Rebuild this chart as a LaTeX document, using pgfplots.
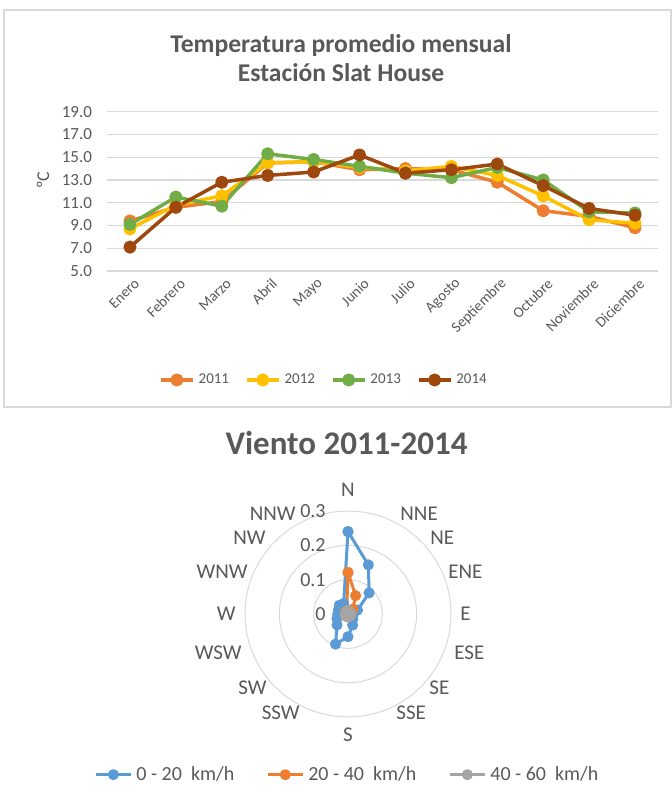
\documentclass[border=0pt]{standalone}
\usepackage{pgfplots}
\pgfplotsset{compat=1.18}
\usepackage{pgfplotstable}
\usepgfplotslibrary{polar}
\usepackage{fontspec}
\setmainfont{Carlito}

\definecolor{txt}{HTML}{595959}
\definecolor{grd}{HTML}{D9D9D9}
\definecolor{c11}{HTML}{ED7D31}
\definecolor{c12}{HTML}{FFC000}
\definecolor{c13}{HTML}{70AD47}
\definecolor{c14}{HTML}{9E480E}
\definecolor{vblue}{HTML}{5B9BD5}
\definecolor{vorange}{HTML}{ED7D31}
\definecolor{vgray}{HTML}{A5A5A5}

% monthly mean temperature, months 0 = Enero ... 11 = Diciembre
\pgfplotstableread{
m  t11  t12  t13  t14
0  9.4  8.7  9.1  7.1
1  10.6 10.8 11.5 10.6
2  11.1 11.6 10.7 12.8
3  14.5 14.5 15.3 13.4
4  14.6 14.6 14.8 13.7
5  13.9 14.1 14.2 15.2
6  14.0 13.8 13.6 13.6
7  13.9 14.2 13.2 13.9
8  12.8 13.4 14.1 14.4
9  10.3 11.6 13.0 12.5
10 9.8  9.5  10.2 10.5
11 8.8  9.2  10.1 9.9
}\temps

% wind frequency by direction (angle in degrees, N at 90, clockwise), last row closes the loop
\pgfplotstableread{
ang    v1    v2    v3
90     0.240 0.121 0.010
67.5   0.155 0.058 0.008
45     0.087 0.020 0.008
22.5   0.030 0.010 0.008
0      0.015 0.008 0.008
-22.5  0.015 0.008 0.008
-45    0.020 0.008 0.008
-67.5  0.035 0.008 0.008
-90    0.066 0.008 0.008
-112.5 0.095 0.008 0.008
-135   0.045 0.008 0.008
-157.5 0.035 0.008 0.008
-180   0.030 0.008 0.008
-202.5 0.030 0.008 0.008
-225   0.036 0.010 0.008
-247.5 0.033 0.010 0.008
-270   0.240 0.121 0.010
}\wind

\begin{document}
\begin{tikzpicture}
\useasboundingbox (0pt,0pt) rectangle (336pt,-401.5pt);
\draw[grd, line width=0.6pt] (2pt,-5pt) rectangle (335.5pt,-203.5pt);

\node[font=\fontsize{12.8}{14.5}\selectfont\bfseries, text=txt, align=center]
  at (170.5pt,-29.25pt) {Temperatura promedio mensual\\Estación Slat House};

\begin{axis}[
  at={(53.5pt,-135.5pt)}, anchor=south west,
  scale only axis, width=275.5pt, height=79.65pt,
  xmin=-0.5, xmax=11.5, ymin=5, ymax=19,
  xtick={0,...,11},
  xticklabels={Enero,Febrero,Marzo,Abril,Mayo,Junio,Julio,Agosto,Septiembre,Octubre,Noviembre,Diciembre},
  ytick={5,7,...,19},
  axis line style={draw=none},
  major tick length=0pt,
  ymajorgrids, grid style={grd, line width=0.6pt},
  /pgf/number format/assume math mode=true,
  yticklabel style={/pgf/number format/.cd, fixed, fixed zerofill, precision=1, /tikz/.cd,
    font=\fontsize{8.5}{10}\selectfont, text=txt, xshift=-4pt},
  xticklabel style={rotate=45, anchor=east, font=\fontsize{7.5}{9}\selectfont, text=txt, yshift=-6pt, inner sep=1pt},
  clip=false,
  legend style={at={(0.3956,-0.684)}, anchor=center, legend columns=4, draw=none, fill=none,
    font=\fontsize{7.5}{9}\selectfont, text=txt,
    /tikz/every even column/.append style={column sep=6pt}},
  legend image code/.code={\draw[#1, mark repeat=2, mark phase=2] plot coordinates {(0pt,0pt) (8pt,0pt) (16pt,0pt)};},
  every axis plot/.append style={line width=1.75pt, line join=round, mark=*, mark size=2.4pt, mark options={solid}},
]
\addplot[c11] table[x=m, y=t11] {\temps};
\addlegendentry{2011}
\addplot[c12] table[x=m, y=t12] {\temps};
\addlegendentry{2012}
\addplot[c13] table[x=m, y=t13] {\temps};
\addlegendentry{2013}
\addplot[c14] table[x=m, y=t14] {\temps};
\addlegendentry{2014}
\end{axis}
\node[rotate=90, font=\fontsize{9}{10}\selectfont, text=txt] at (21.5pt,-90pt) {ºC};

\node[font=\fontsize{16.5}{18}\selectfont\bfseries, text=txt] at (173.25pt,-221.5pt) {Viento 2011-2014};

\begin{polaraxis}[
  at={(174pt,-307pt)}, anchor=center,
  scale only axis, width=103pt, height=103pt,
  ymin=0, ymax=0.3, ytick={0.1,0.2,0.3}, yticklabels={},
  xtick=\empty,
  major tick length=0pt, tick style={draw=none},
  axis line style={draw=none},
  ymajorgrids, grid style={grd, line width=0.5pt},
  clip=false,
  legend style={at={(0.502,-0.28)}, anchor=center, legend columns=3, draw=none, fill=none,
    font=\fontsize{10}{12}\selectfont, text=txt,
    /tikz/every even column/.append style={column sep=14pt}},
  legend image code/.code={\draw[#1, mark repeat=2, mark phase=2] plot coordinates {(0pt,0pt) (8.75pt,0pt) (17.5pt,0pt)};},
  every axis plot/.append style={line width=1.5pt, line join=round, mark=*, mark size=2pt, mark options={solid}},
]
\addplot[vblue] table[x=ang, y=v1] {\wind};
\addlegendentry{0 - 20~ km/h}
\addplot[vorange] table[x=ang, y=v2] {\wind};
\addlegendentry{20 - 40~ km/h}
\addplot[vgray] table[x=ang, y=v3] {\wind};
\addlegendentry{40 - 60~ km/h}
\node[anchor=east, xshift=-11pt, inner sep=0pt, font=\fontsize{10}{12}\selectfont, text=txt] at (axis cs:90,0) {0};
\node[anchor=east, xshift=-11pt, inner sep=0pt, font=\fontsize{10}{12}\selectfont, text=txt] at (axis cs:90,0.1) {0.1};
\node[anchor=east, xshift=-11pt, inner sep=0pt, font=\fontsize{10}{12}\selectfont, text=txt] at (axis cs:90,0.2) {0.2};
\node[anchor=east, xshift=-11pt, inner sep=0pt, font=\fontsize{10}{12}\selectfont, text=txt] at (axis cs:90,0.3) {0.3};
\end{polaraxis}

\begin{scope}[every node/.style={font=\fontsize{10.5}{12}\selectfont, text=txt, inner sep=0pt}]
\node[anchor=center] at (174pt,-245pt) {N};
\node[anchor=west] at (200pt,-257pt) {NNE};
\node[anchor=west] at (215pt,-269pt) {NE};
\node[anchor=west] at (224pt,-286pt) {ENE};
\node[anchor=west] at (230pt,-307pt) {E};
\node[anchor=west] at (227pt,-326.5pt) {ESE};
\node[anchor=west] at (214.5pt,-344pt) {SE};
\node[anchor=west] at (198pt,-356.5pt) {SSE};
\node[anchor=center] at (174pt,-367.5pt) {S};
\node[anchor=east] at (150pt,-356.5pt) {SSW};
\node[anchor=east] at (133.5pt,-344pt) {SW};
\node[anchor=east] at (121pt,-326.5pt) {WSW};
\node[anchor=east] at (118pt,-307pt) {W};
\node[anchor=east] at (124pt,-286pt) {WNW};
\node[anchor=east] at (133pt,-269pt) {NW};
\node[anchor=east] at (148pt,-257pt) {NNW};
\end{scope}
\end{tikzpicture}
\end{document}
